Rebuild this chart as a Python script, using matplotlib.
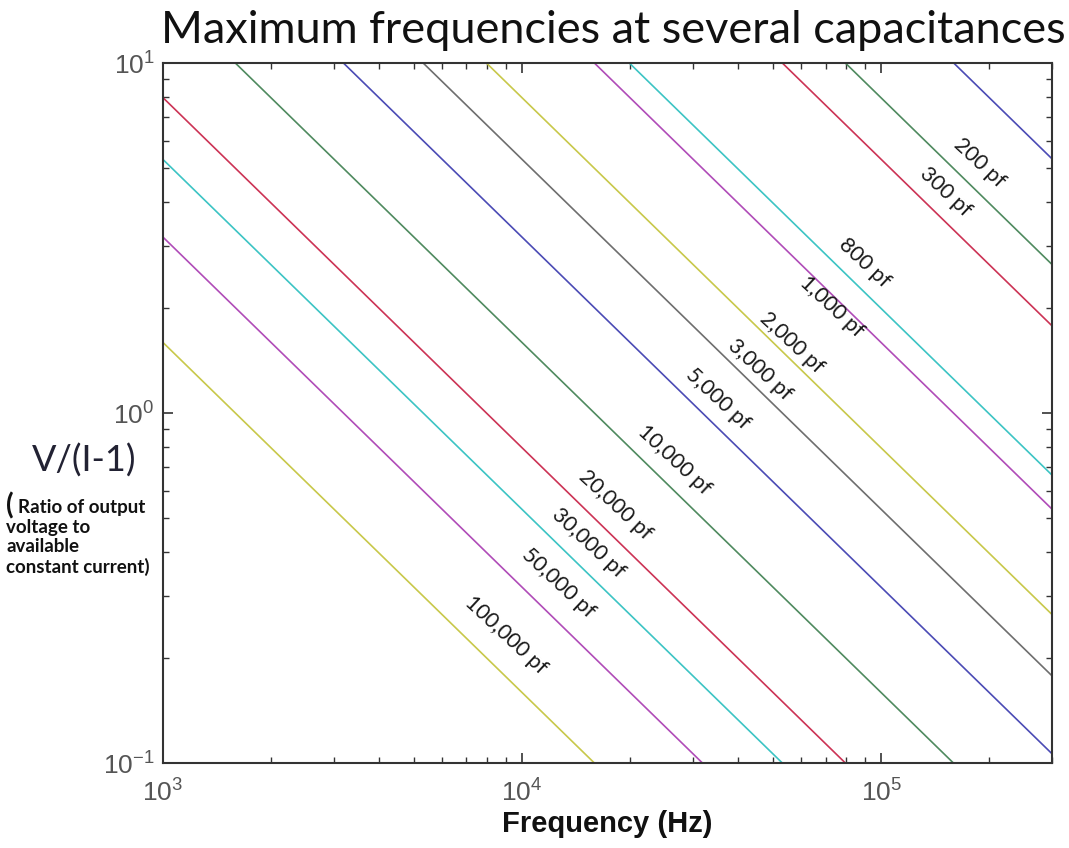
import numpy as np
import matplotlib
matplotlib.use('Agg')
import matplotlib.pyplot as plt
from matplotlib.ticker import LogLocator, LogFormatterMathtext

plt.rcParams['font.family'] = 'Liberation Sans'
plt.rcParams['mathtext.fontset'] = 'custom'
plt.rcParams['mathtext.rm'] = 'Liberation Sans'
plt.rcParams['mathtext.default'] = 'regular'

# capacitance labels and V/(I-1) read at both ends of the frequency range
labels = ['100,000 pf', '50,000 pf', '30,000 pf', '20,000 pf', '10,000 pf',
          '5,000 pf', '3,000 pf', '2,000 pf', '1,000 pf', '800 pf',
          '300 pf', '200 pf', '100 pf']
freq_ends = [1e3, 3e5]
v_at_1khz = [1.59, 3.18, 5.3, 7.96, 15.9, 31.8, 53.0, 79.6, 159.0, 199.0,
             530.0, 796.0, 1592.0]
v_at_300khz = [0.0053, 0.0106, 0.0177, 0.0265, 0.053, 0.106, 0.177, 0.265,
               0.53, 0.663, 1.77, 2.65, 5.31]
colors = ['#c8c84a', '#b04cb8', '#3cc4c4', '#cc3355', '#4f8a5f', '#4b4bb5',
          '#6e6e6e', '#c8c84a', '#b04cb8', '#3cc4c4', '#cc3355', '#4f8a5f',
          '#4b4bb5']

# where each curve's label sits (data coords); the 100 pf curve has none
label_pos = [(9.0e3, 0.232), (1.26e4, 0.327), (1.53e4, 0.425), (1.82e4, 0.546),
             (2.66e4, 0.734), (3.51e4, 1.10), (4.59e4, 1.327), (5.64e4, 1.585),
             (7.3e4, 2.01), (9.0e4, 2.68), (1.51e5, 4.27), (1.88e5, 5.18), None]

fig = plt.figure(figsize=(10.69, 8.48), dpi=100)
ax = fig.add_axes([0.1525, 0.1002, 0.832, 0.8255])

for i in range(len(labels)):
    ax.loglog(freq_ends, [v_at_1khz[i], v_at_300khz[i]], color=colors[i], lw=1.2)
    if label_pos[i] is not None:
        ax.text(label_pos[i][0], label_pos[i][1], labels[i], rotation=-43,
                rotation_mode='anchor', ha='center', va='center',
                fontsize=15.5, family='Lato', color='#1a1a1a')

ax.set_xlim(1e3, 3e5)
ax.set_ylim(0.1, 10)
ax.xaxis.set_major_locator(LogLocator(base=10))
ax.yaxis.set_major_locator(LogLocator(base=10))
ax.xaxis.set_major_formatter(LogFormatterMathtext())
ax.yaxis.set_major_formatter(LogFormatterMathtext())
ax.tick_params(which='both', direction='in', top=True, right=True,
               colors='#333333', labelcolor='#555555', labelsize=19)
ax.tick_params(which='major', length=7, width=1.2)
ax.tick_params(which='minor', length=4, width=1.0)
ax.tick_params(axis='x', pad=12)
ax.tick_params(axis='y', pad=6)
for s in ax.spines.values():
    s.set_color('#333333')
    s.set_linewidth(1.5)

fig.text(0.574, 0.964, 'Maximum frequencies at several capacitances',
         ha='center', va='center', fontsize=32.5, family='Lato', color='#111111')
ax.set_xlabel('Frequency (Hz)', fontsize=21, fontweight='bold',
              family='Liberation Sans', color='#111111', labelpad=2)

fig.text(0.079, 0.457, 'V/(I-1)', ha='center', va='center', fontsize=26,
         family='Lato', color='#222233')
fig.text(0.006, 0.404, '(', ha='left', va='center', fontsize=20,
         family='Lato', fontweight='bold', color='#111111')
small = ['Ratio of output', 'voltage to', 'available', 'constant current)']
small_x = [0.017, 0.006, 0.006, 0.006]
small_y = [0.401, 0.378, 0.355, 0.332]
for t, sx, sy in zip(small, small_x, small_y):
    fig.text(sx, sy, t, ha='left', va='center', fontsize=13.5,
             family='Lato', fontweight='bold', color='#111111')

fig.savefig('out.png', dpi=100)
